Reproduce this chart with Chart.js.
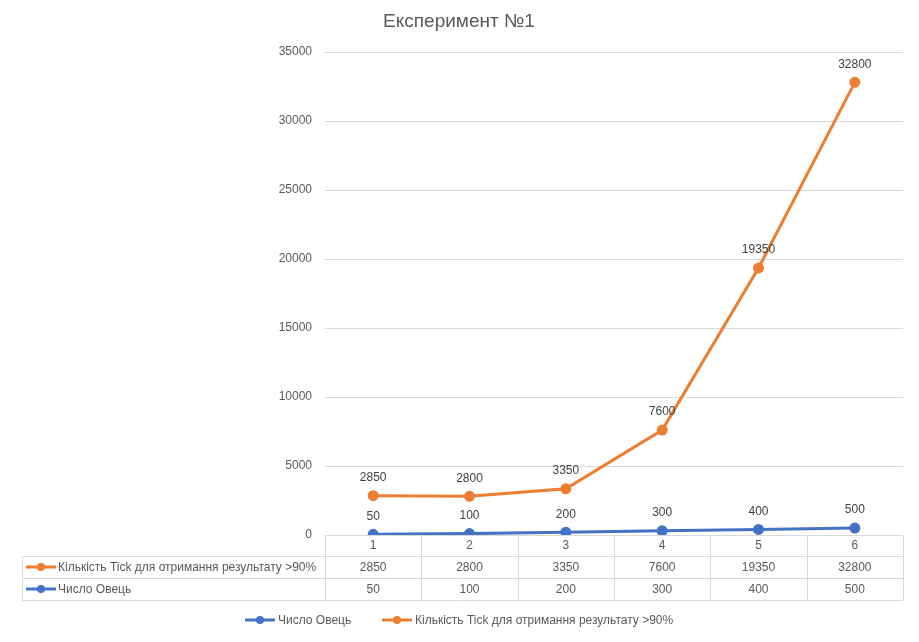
<!DOCTYPE html>
<html>
<head>
<meta charset="utf-8">
<script src="https://cdn.jsdelivr.net/npm/chart.js@4"></script>
<style>
  html, body { margin: 0; padding: 0; background: #fff; }
  #wrap { width: 919px; height: 642px; position: relative; }
</style>
</head>
<body>
<div id="wrap"><canvas id="myChart"></canvas></div>
<script>
const categories = ['1', '2', '3', '4', '5', '6'];
const sheep = [50, 100, 200, 300, 400, 500];
const ticks = [2850, 2800, 3350, 7600, 19350, 32800];
const sheepName = 'Число Овець';
const ticksName = 'Кількість Tick для отримання результату >90%';
const title = 'Експеримент №1';

const BLUE = '#4472C4';
const ORANGE = '#ED7D31';
const GRAY = '#595959';
const LINE = '#d9d9d9';
const FONT = '"Liberation Sans", Arial, sans-serif';

function legendKey(c, x, y, color) {
  c.strokeStyle = color;
  c.lineWidth = 3;
  c.beginPath();
  c.moveTo(x, y);
  c.lineTo(x + 30, y);
  c.stroke();
  c.fillStyle = color;
  c.beginPath();
  c.arc(x + 15, y, 4, 0, Math.PI * 2);
  c.fill();
}

const extras = {
  id: 'extras',
  afterDraw(chart) {
    const c = chart.ctx;
    const area = chart.chartArea;
    const xs = chart.scales.x;
    c.save();

    // title
    c.fillStyle = GRAY;
    c.font = '19px ' + FONT;
    c.textAlign = 'center';
    c.textBaseline = 'middle';
    c.fillText(title, 459, 22);

    // value labels above points
    c.font = '12px ' + FONT;
    c.fillStyle = '#404040';
    chart.data.datasets.forEach((ds, di) => {
      const meta = chart.getDatasetMeta(di);
      meta.data.forEach((pt, i) => {
        c.fillText(String(ds.data[i]), pt.x, pt.y - 18);
      });
    });

    // data table
    const colW = (area.right - area.left) / categories.length;
    const r0 = area.bottom + 1, r1 = 556, r2 = 578, r3 = 600;
    const tLeft = 22;
    c.strokeStyle = LINE;
    c.lineWidth = 1;
    c.beginPath();
    for (let i = 0; i <= categories.length; i++) {
      const x = Math.round(area.left + i * colW) + 0.5;
      c.moveTo(x, r0);
      c.lineTo(x, r3);
    }
    c.moveTo(tLeft + 0.5, r1);
    c.lineTo(tLeft + 0.5, r3);
    [r1, r2, r3].forEach(y => {
      c.moveTo(tLeft, y + 0.5);
      c.lineTo(area.right, y + 0.5);
    });
    c.stroke();

    c.fillStyle = GRAY;
    c.textAlign = 'center';
    categories.forEach((cat, i) => {
      const x = xs.getPixelForValue(i);
      c.fillText(cat, x, (r0 + r1) / 2);
      c.fillText(String(ticks[i]), x, (r1 + r2) / 2 + 1);
      c.fillText(String(sheep[i]), x, (r2 + r3) / 2 + 1);
    });

    c.textAlign = 'left';
    legendKey(c, 26, (r1 + r2) / 2, ORANGE);
    c.fillStyle = GRAY;
    c.fillText(ticksName, 58, (r1 + r2) / 2 + 1);
    legendKey(c, 26, (r2 + r3) / 2, BLUE);
    c.fillStyle = GRAY;
    c.fillText(sheepName, 58, (r2 + r3) / 2 + 1);

    // bottom legend
    legendKey(c, 245, 620, BLUE);
    c.fillStyle = GRAY;
    c.fillText(sheepName, 278, 621);
    legendKey(c, 382, 620, ORANGE);
    c.fillStyle = GRAY;
    c.fillText(ticksName, 415, 621);

    c.restore();
  }
};

new Chart(document.getElementById('myChart'), {
  type: 'line',
  data: {
    labels: categories,
    datasets: [
      {
        label: ticksName,
        data: ticks,
        borderColor: ORANGE,
        backgroundColor: ORANGE,
        borderWidth: 3,
        pointRadius: 4,
        pointHoverRadius: 4,
        tension: 0
      },
      {
        label: sheepName,
        data: sheep,
        borderColor: BLUE,
        backgroundColor: BLUE,
        borderWidth: 3,
        pointRadius: 4,
        pointHoverRadius: 4,
        tension: 0
      }
    ]
  },
  options: {
    responsive: true,
    maintainAspectRatio: false,
    animation: false,
    events: [],
    layout: { padding: { top: 52, left: 265, right: 16, bottom: 107 } },
    scales: {
      x: {
        display: false,
        offset: true
      },
      y: {
        min: 0,
        max: 35000,
        afterFit(s) { s.width = 60; },
        border: { display: false },
        grid: { color: LINE, drawTicks: false },
        ticks: {
          stepSize: 5000,
          padding: 13,
          color: GRAY,
          font: { size: 12, family: FONT },
          callback: v => String(v)
        }
      }
    },
    plugins: {
      legend: { display: false },
      title: { display: false },
      tooltip: { enabled: false }
    }
  },
  plugins: [extras]
});
</script>
</body>
</html>
